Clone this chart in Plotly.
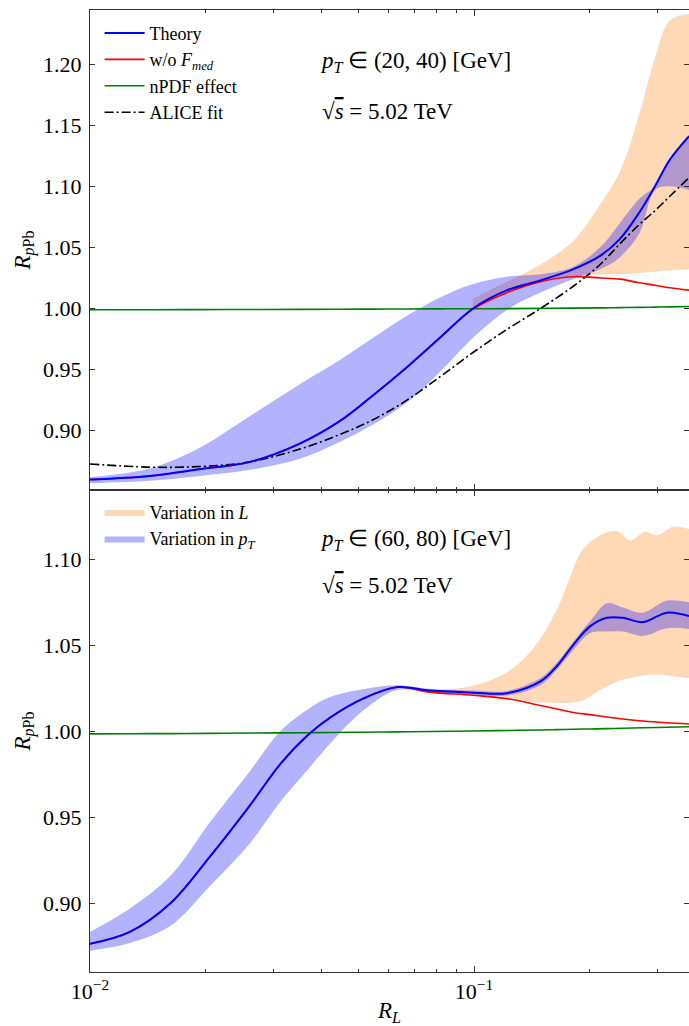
import plotly.graph_objects as go

# ---------------- top panel: pT in (20, 40) GeV ----------------
rl_top = [0.0100, 0.0143, 0.0193, 0.0261, 0.0352, 0.0448, 0.0546, 0.0669, 0.0815, 0.0994,
          0.122, 0.149, 0.181, 0.213, 0.240, 0.270, 0.296, 0.324, 0.363]
theory_top = [0.860, 0.863, 0.8685, 0.8745, 0.8895, 0.908, 0.929, 0.952, 0.976, 1.000,
              1.015, 1.023, 1.032, 1.043, 1.057, 1.079, 1.100, 1.122, 1.141]
wofmed_top = [0.860, 0.863, 0.8685, 0.8745, 0.8895, 0.908, 0.929, 0.952, 0.976, 0.9995,
              1.013, 1.022, 1.026, 1.025, 1.024, 1.021, 1.019, 1.017, 1.015]
npdf_top = [0.9990, 0.9990, 0.9991, 0.9992, 0.9993, 0.9994, 0.9995, 0.9996, 0.9997, 0.9998,
            0.9999, 1.0001, 1.0003, 1.0005, 1.0007, 1.0009, 1.0011, 1.0013, 1.0016]
alice_top = [0.8728, 0.8702, 0.8707, 0.8745, 0.885, 0.897, 0.909, 0.925, 0.944, 0.964,
             0.983, 1.000, 1.018, 1.036, 1.053, 1.069, 1.080, 1.092, 1.107]
ptvar_top_hi = [0.862, 0.869, 0.886, 0.912, 0.938, 0.958, 0.976, 0.994, 1.009, 1.020,
                1.026, 1.028, 1.034, 1.050, 1.070, 1.090, 1.100, 1.123, 1.142]
ptvar_top_lo = [0.857, 0.859, 0.863, 0.868, 0.877, 0.891, 0.905, 0.923, 0.948, 0.976,
                0.999, 1.013, 1.024, 1.032, 1.042, 1.062, 1.097, 1.100, 1.097]
rl_top_L = [0.0994, 0.122, 0.149, 0.181, 0.213, 0.240, 0.270, 0.296, 0.324, 0.363]
lvar_top_hi = [1.008, 1.022, 1.036, 1.055, 1.085, 1.112, 1.160, 1.205, 1.236, 1.241]
lvar_top_lo = [1.000, 1.013, 1.021, 1.026, 1.028, 1.028, 1.029, 1.030, 1.031, 1.032]

# ---------------- bottom panel: pT in (60, 80) GeV ----------------
rl_bot = [0.0100, 0.0127, 0.0162, 0.0205, 0.0261, 0.0313, 0.0370, 0.0422, 0.0514, 0.0630,
          0.0768, 0.0994, 0.122, 0.149, 0.1645, 0.181, 0.2005, 0.222, 0.2443, 0.2755,
          0.318, 0.363]
theory_bot = [0.8765, 0.8834, 0.900, 0.927, 0.957, 0.981, 0.998, 1.008, 1.019, 1.0257,
              1.0237, 1.0225, 1.0222, 1.029, 1.038, 1.050, 1.061, 1.066, 1.066, 1.0635,
              1.069, 1.067]
wofmed_bot = [0.8765, 0.8834, 0.900, 0.927, 0.957, 0.981, 0.998, 1.008, 1.019, 1.0257,
              1.0228, 1.021, 1.019, 1.015, 1.013, 1.011, 1.0097, 1.0083, 1.0072, 1.006,
              1.005, 1.0043]
npdf_bot = [0.9985, 0.9986, 0.9987, 0.9988, 0.9990, 0.9991, 0.9992, 0.9993, 0.9995, 0.9997,
            0.9999, 1.0002, 1.0005, 1.0008, 1.0010, 1.0012, 1.0014, 1.0016, 1.0018, 1.0021,
            1.0024, 1.0027]
ptvar_bot_hi = [0.8834, 0.897, 0.916, 0.947, 0.977, 1.000, 1.013, 1.020, 1.0245, 1.0268,
                1.0247, 1.0237, 1.0235, 1.031, 1.040, 1.052, 1.064, 1.0745, 1.072, 1.069,
                1.076, 1.075]
ptvar_bot_lo = [0.8725, 0.877, 0.887, 0.910, 0.935, 0.959, 0.978, 0.993, 1.012, 1.024,
                1.0227, 1.0213, 1.0209, 1.027, 1.036, 1.047, 1.057, 1.058, 1.058, 1.0555,
                1.060, 1.0595]
rl_bot_L = [0.0768, 0.0994, 0.122, 0.1424, 0.1645, 0.181, 0.1923, 0.213, 0.2357, 0.2549,
            0.2789, 0.2996, 0.3298, 0.363]
lvar_bot_hi = [1.0237, 1.0265, 1.0344, 1.048, 1.071, 1.094, 1.106, 1.114, 1.1165, 1.111,
               1.116, 1.114, 1.119, 1.1175]
lvar_bot_lo = [1.0237, 1.0215, 1.0197, 1.017, 1.0165, 1.0168, 1.018, 1.024, 1.029, 1.031,
               1.0325, 1.033, 1.032, 1.031]

x_ticks = [0.01, 0.1]
x_ticktext = ["10<sup>\u22122</sup>", "10<sup>\u22121</sup>"]
x_minor = [0.02, 0.03, 0.04, 0.05, 0.06, 0.07, 0.08, 0.09, 0.2, 0.3]
y_ticks_top = [0.90, 0.95, 1.00, 1.05, 1.10, 1.15, 1.20]
y_ticks_bot = [0.90, 0.95, 1.00, 1.05, 1.10]

FONT = "Liberation Serif"
BLUE = "#0000ff"
RED = "#ff0000"
GREEN = "#008000"
ORANGE_FILL = "rgba(255,127,14,0.30)"
BLUE_FILL = "rgba(0,0,255,0.30)"

fig = go.Figure()


def band(x, lo, hi, color, xa, ya, name=None, legend=None):
    fig.add_trace(go.Scatter(x=x, y=lo, mode="lines", line=dict(width=0, shape="spline"),
                             showlegend=False, hoverinfo="skip", xaxis=xa, yaxis=ya))
    fig.add_trace(go.Scatter(x=x, y=hi, mode="lines", line=dict(width=0, shape="spline"),
                             fill="tonexty", fillcolor=color, name=name,
                             showlegend=name is not None, legend=legend,
                             hoverinfo="skip", xaxis=xa, yaxis=ya))


def line(x, y, color, width, xa, ya, name=None, dash="solid", rank=None):
    fig.add_trace(go.Scatter(x=x, y=y, mode="lines",
                             line=dict(color=color, width=width, shape="spline", dash=dash),
                             name=name, showlegend=name is not None, legend="legend",
                             legendrank=rank if rank else 1000, xaxis=xa, yaxis=ya))


# top panel
band(rl_top_L, lvar_top_lo, lvar_top_hi, ORANGE_FILL, "x", "y")
band(rl_top, ptvar_top_lo, ptvar_top_hi, BLUE_FILL, "x", "y")
line(rl_top, npdf_top, GREEN, 1.6, "x", "y", "nPDF effect", rank=3)
line(rl_top, alice_top, "black", 1.6, "x", "y", "ALICE fit", dash="9px,3px,2px,3px", rank=4)
line(rl_top, wofmed_top, RED, 1.6, "x", "y", "w/o <i>F</i><sub><i>med</i></sub>", rank=2)
line(rl_top, theory_top, BLUE, 2.0, "x", "y", "Theory", rank=1)

# bottom panel
band(rl_bot_L, lvar_bot_lo, lvar_bot_hi, ORANGE_FILL, "x2", "y2", "Variation in <i>L</i>", "legend2")
band(rl_bot, ptvar_bot_lo, ptvar_bot_hi, BLUE_FILL, "x2", "y2",
     "Variation in <i>p</i><sub><i>T</i></sub>", "legend2")
line(rl_bot, npdf_bot, GREEN, 1.6, "x2", "y2")
line(rl_bot, wofmed_bot, RED, 1.6, "x2", "y2")
line(rl_bot, theory_bot, BLUE, 2.0, "x2", "y2")

split = (972 - 490) / 962

axis_common = dict(showline=True, linecolor="#333", linewidth=1, mirror="ticks",
                   ticks="inside", tickcolor="#333", showgrid=False, zeroline=False,
                   automargin=False,
                   tickfont=dict(family=FONT, size=22, color="black"))

xcommon = dict(axis_common, type="log", range=[-2, -0.4401], tickmode="array",
               tickvals=x_ticks, ticktext=x_ticktext, ticklen=6,
               minor=dict(tickmode="array", tickvals=x_minor, ticks="inside", ticklen=3,
                          tickcolor="#333", showgrid=False))

ytitle = "<i>R</i><sub><i>p</i>Pb</sub>"

fig.update_layout(
    width=689, height=1026,
    margin=dict(l=90, r=0, t=10, b=54, autoexpand=False),
    paper_bgcolor="white", plot_bgcolor="white",
    font=dict(family=FONT, color="black"),
    xaxis=dict(xcommon, anchor="y", showticklabels=False, matches="x2"),
    xaxis2=dict(xcommon, anchor="y2",
                title=dict(text="<i>R</i><sub><i>L</i></sub>", font=dict(family=FONT, size=23),
                           standoff=2)),
    yaxis=dict(axis_common, domain=[split, 1], range=[0.8515, 1.2442], tickmode="array",
               tickvals=y_ticks_top, tickformat=".2f", ticklen=5, ticklabelstandoff=3,
               title=dict(text=ytitle, font=dict(family=FONT, size=23), standoff=6)),
    yaxis2=dict(axis_common, domain=[0, split], range=[0.8601, 1.1403], tickmode="array",
                tickvals=y_ticks_bot, tickformat=".2f", ticklen=5, ticklabelstandoff=3,
                title=dict(text=ytitle, font=dict(family=FONT, size=23), standoff=6)),
    legend=dict(x=0.016, y=0.995, xanchor="left", yanchor="top", bgcolor="rgba(0,0,0,0)",
                font=dict(family=FONT, size=18), itemwidth=40, tracegroupgap=0,
                traceorder="normal"),
    legend2=dict(x=0.016, y=split - 0.004, xanchor="left", yanchor="top",
                 bgcolor="rgba(0,0,0,0)", font=dict(family=FONT, size=18), itemwidth=40,
                 traceorder="normal"),
    showlegend=True,
)

ann_font = dict(family=FONT, size=23, color="black")
sqrt_s = "\u221a<span style='text-decoration:overline'><i>s</i></span> = 5.02 TeV"
for txt, px, py in [
    ("<i>p</i><sub><i>T</i></sub> \u2208 (20, 40) [GeV]", 318, 62),
    (sqrt_s, 320, 112),
    ("<i>p</i><sub><i>T</i></sub> \u2208 (60, 80) [GeV]", 318, 540),
    (sqrt_s, 320, 585),
]:
    fig.add_annotation(text=txt, xref="paper", yref="paper",
                       x=(px - 90) / 599, y=(972 - py) / 962,
                       xanchor="left", yanchor="middle", showarrow=False, font=ann_font)

fig.write_html("out.html", config={"displayModeBar": False},
               post_script="document.body.style.margin='0';document.body.style.overflow='hidden';")
